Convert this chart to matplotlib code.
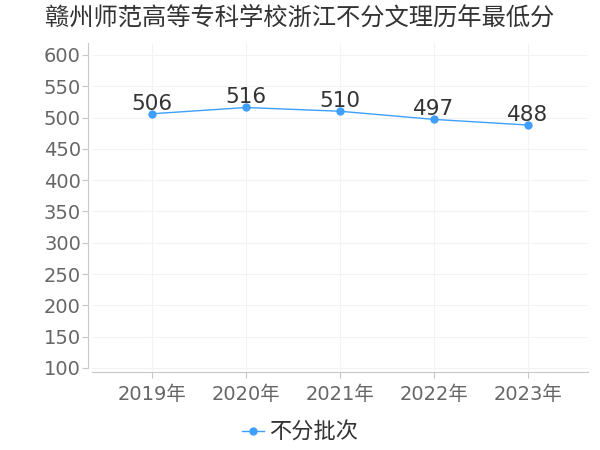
import matplotlib
matplotlib.use("Agg")
import matplotlib.pyplot as plt

plt.rcParams['font.family'] = ['DejaVu Sans', 'Noto Sans CJK SC']

years = ['2019年', '2020年', '2021年', '2022年', '2023年']
scores = [506, 516, 510, 497, 488]
series_name = '不分批次'
title = '赣州师范高等专科学校浙江不分文理历年最低分'
yticks = list(range(100, 601, 50))

fig = plt.figure(figsize=(6, 4.5), dpi=100)
ax = fig.add_axes([92 / 600, 1 - 372 / 450, 496 / 600, 329 / 450])

x = list(range(len(years)))
line_color = '#3f9fff'
ax.plot(x, scores, color=line_color, lw=1, marker='o', markersize=5,
        label=series_name, zorder=3)
for xi, v in zip(x, scores):
    ax.annotate(str(v), (xi, v), xytext=(0, 0), textcoords='offset points',
                ha='center', va='bottom', fontsize=15.5, color='#333333')

ax.set_xlim(-0.64, 4.64)
ax.set_ylim(93.6, 619)
ax.set_xticks(x)
ax.set_xticklabels(years)
ax.set_yticks(yticks)

ax.grid(True, color='#f3f3f3', lw=0.8)
ax.set_axisbelow(True)
for s in ['top', 'right']:
    ax.spines[s].set_visible(False)
ax.spines['left'].set_position(('outward', 3))
ax.spines['left'].set_bounds(100, 619)
ax.spines['left'].set_color('#c8c8c8')
ax.spines['bottom'].set_color('#c8c8c8')
ax.tick_params(axis='both', colors='#c8c8c8', labelcolor='#666666',
               labelsize=14, length=4, width=0.8)
ax.tick_params(axis='y', pad=1)
ax.tick_params(axis='x', pad=5)

fig.text(0.5, 1 - 18 / 450, title, ha='center', va='center', fontsize=17.5,
         color='#333333', family=['Noto Sans CJK SC', 'DejaVu Sans'])

fig.legend(loc='center', bbox_to_anchor=(0.5, 1 - 432 / 450), frameon=False,
           prop={'family': ['Noto Sans CJK SC'], 'size': 16},
           labelcolor='#333333', handlelength=1.0, handletextpad=0.2,
           markerscale=1.0)

fig.savefig('out.png', dpi=100)
